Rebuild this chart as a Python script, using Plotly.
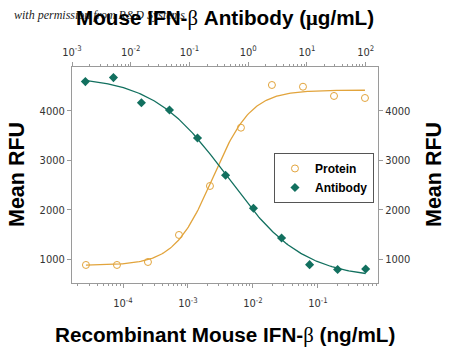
import numpy as np
import plotly.graph_objects as go

# ---- data ----
# Recombinant Mouse IFN-beta (ng/mL) -> bottom axis
protein_conc = [2.69e-5, 8.08e-5, 2.42e-4, 7.27e-4, 2.18e-3, 6.54e-3, 0.0196, 0.0589, 0.177, 0.53]
protein_rfu = [885, 885, 945, 1492, 2483, 3662, 4526, 4491, 4304, 4263]

# Mouse IFN-beta Antibody (ug/mL) -> top axis
antibody_conc = [0.00169, 0.00508, 0.0152, 0.0457, 0.137, 0.412, 1.23, 3.70, 11.1, 33.3, 100]
antibody_rfu = [4595, 4676, 4168, 4020, 3454, 2699, 2032, 1431, 891, 792, 804]

bottom_tickvals = [1e-4, 1e-3, 1e-2, 1e-1]
bottom_ticktext = ["10<sup>-4</sup>", "10<sup>-3</sup>", "10<sup>-2</sup>", "10<sup>-1</sup>"]
top_tickvals = [1e-3, 1e-2, 1e-1, 1e0, 1e1, 1e2]
top_ticktext = ["10<sup>-3</sup>", "10<sup>-2</sup>", "10<sup>-1</sup>", "10<sup>0</sup>",
                "10<sup>1</sup>", "10<sup>2</sup>"]
y_tickvals = [1000, 2000, 3000, 4000]

ORANGE = "#e2a43c"
TEAL = "#12705f"
AXIS = "#9a9a9a"


def fit4pl(x, y, increasing):
    """4-parameter logistic fit (grid over EC50/slope, linear LSQ for plateaus)."""
    x = np.asarray(x, float)
    y = np.asarray(y, float)
    lx = np.log10(x)
    lc = np.linspace(lx.min() - 1, lx.max() + 1, 500)
    hh = np.linspace(0.3, 3.0, 271)
    LC, H = np.meshgrid(lc, hh, indexing="ij")
    d = (lx[None, None, :] - LC[..., None]) * H[..., None]
    s = 1 / (1 + 10 ** (-d)) if increasing else 1 / (1 + 10 ** d)
    n = len(x)
    Ss = s.sum(-1)
    Sss = (s * s).sum(-1)
    Sy = y.sum()
    Ssy = (s * y).sum(-1)
    det = n * Sss - Ss ** 2
    A = (n * Ssy - Ss * Sy) / det
    B = (Sy - A * Ss) / n
    res = ((B[..., None] + A[..., None] * s - y) ** 2).sum(-1)
    i = np.unravel_index(np.nanargmin(res), res.shape)
    b, a, c, h = B[i], A[i], LC[i], H[i]
    xs = np.logspace(lx.min(), lx.max(), 200)
    dd = (np.log10(xs) - c) * h
    ss = 1 / (1 + 10 ** (-dd)) if increasing else 1 / (1 + 10 ** dd)
    return xs, b + a * ss


px_, py_ = fit4pl(protein_conc, protein_rfu, True)
ax_, ay_ = fit4pl(antibody_conc, antibody_rfu, False)

fig = go.Figure()
fig.add_trace(go.Scatter(x=px_, y=py_, mode="lines", line=dict(color=ORANGE, width=1.3),
                         showlegend=False, hoverinfo="skip", xaxis="x", yaxis="y"))
fig.add_trace(go.Scatter(x=ax_, y=ay_, mode="lines", line=dict(color=TEAL, width=1.3),
                         showlegend=False, hoverinfo="skip", xaxis="x2", yaxis="y2"))
fig.add_trace(go.Scatter(x=protein_conc, y=protein_rfu, mode="markers", name="Protein",
                         marker=dict(symbol="circle-open", size=7, color=ORANGE, line=dict(width=1)),
                         xaxis="x", yaxis="y"))
fig.add_trace(go.Scatter(x=antibody_conc, y=antibody_rfu, mode="markers", name="Antibody",
                         marker=dict(symbol="diamond", size=7, color=TEAL),
                         xaxis="x2", yaxis="y2"))

tickfont = dict(family="Liberation Sans Narrow, DejaVu Sans Condensed, Liberation Sans, sans-serif",
                size=11, color="#333333")


def minor_vals(lo, hi):
    return [m * 10.0 ** e for e in range(lo, hi) for m in range(2, 10)]


common_x = dict(type="log", showgrid=False, zeroline=False, showline=True, linecolor=AXIS,
                linewidth=1, ticks="outside", ticklen=4, tickcolor=AXIS, tickfont=tickfont,
                tickmode="array")
fig.update_layout(
    width=450, height=350,
    margin=dict(l=72, r=72, t=67, b=67),
    plot_bgcolor="white", paper_bgcolor="white",
    xaxis=dict(**common_x, range=[-4.785, -0.075], tickvals=bottom_tickvals,
               ticktext=bottom_ticktext, ticklabelstandoff=6,
               minor=dict(tickmode="array", tickvals=minor_vals(-5, 0), ticks="outside",
                          ticklen=2, tickcolor=AXIS, showgrid=False)),
    xaxis2=dict(**common_x, range=[-3, 2.21], tickvals=top_tickvals, ticktext=top_ticktext,
                overlaying="x", side="top", anchor="y", ticklabelstandoff=2,
                minor=dict(tickmode="array", tickvals=minor_vals(-3, 3), ticks="outside",
                           ticklen=2, tickcolor=AXIS, showgrid=False)),
    yaxis=dict(range=[520, 4890], tickmode="array", tickvals=y_tickvals, showgrid=False,
               zeroline=False, showline=True, linecolor=AXIS, ticks="outside", ticklen=4,
               tickcolor=AXIS, tickfont=tickfont),
    yaxis2=dict(range=[520, 4890], tickmode="array", tickvals=y_tickvals, showgrid=False,
                zeroline=False, showline=True, linecolor=AXIS, ticks="outside", ticklen=4,
                tickcolor=AXIS, tickfont=tickfont, overlaying="y", side="right", anchor="x"),
    legend=dict(x=0.66, y=0.602, xanchor="left", yanchor="top", bgcolor="white",
                bordercolor="#555555", borderwidth=1,
                font=dict(family="Liberation Sans, Arial, sans-serif", size=12, color="black",
                          weight="bold")),
)

title_font = dict(family="Liberation Sans, Arial, sans-serif", size=20.7, color="black",
                  weight="bold")
BETA = '<span style="font-family:Liberation Serif;font-weight:normal">β</span>'
MU = '<span style="font-family:Liberation Serif">μ</span>'

fig.add_annotation(text="with permission from R&amp;D Systems", xref="paper", yref="paper",
                   x=(12 - 72) / 306, y=(283 - 15) / 216, xanchor="left", yanchor="middle",
                   showarrow=False,
                   font=dict(family="Liberation Serif, serif", size=12, color="#222222",
                             style="italic"))
fig.add_annotation(text="Mouse IFN-" + BETA + " Antibody (" + MU + "g/mL)", xref="paper",
                   yref="paper", x=0.5, y=(283 - 18) / 216, xanchor="center", yanchor="middle",
                   showarrow=False, font=title_font)
fig.add_annotation(text="Recombinant Mouse IFN-" + BETA + " (ng/mL)", xref="paper", yref="paper",
                   x=0.5, y=(283 - 335) / 216, xanchor="center", yanchor="middle",
                   showarrow=False, font=title_font)
fig.add_annotation(text="Mean RFU", xref="paper", yref="paper", x=(17 - 72) / 306, y=0.5,
                   xanchor="center", yanchor="middle", textangle=-90, showarrow=False,
                   font=dict(title_font, size=21.5))
fig.add_annotation(text="Mean RFU", xref="paper", yref="paper", x=(434 - 72) / 306, y=0.5,
                   xanchor="center", yanchor="middle", textangle=-90, showarrow=False,
                   font=dict(title_font, size=21.5))

fig.write_html("out.html")
